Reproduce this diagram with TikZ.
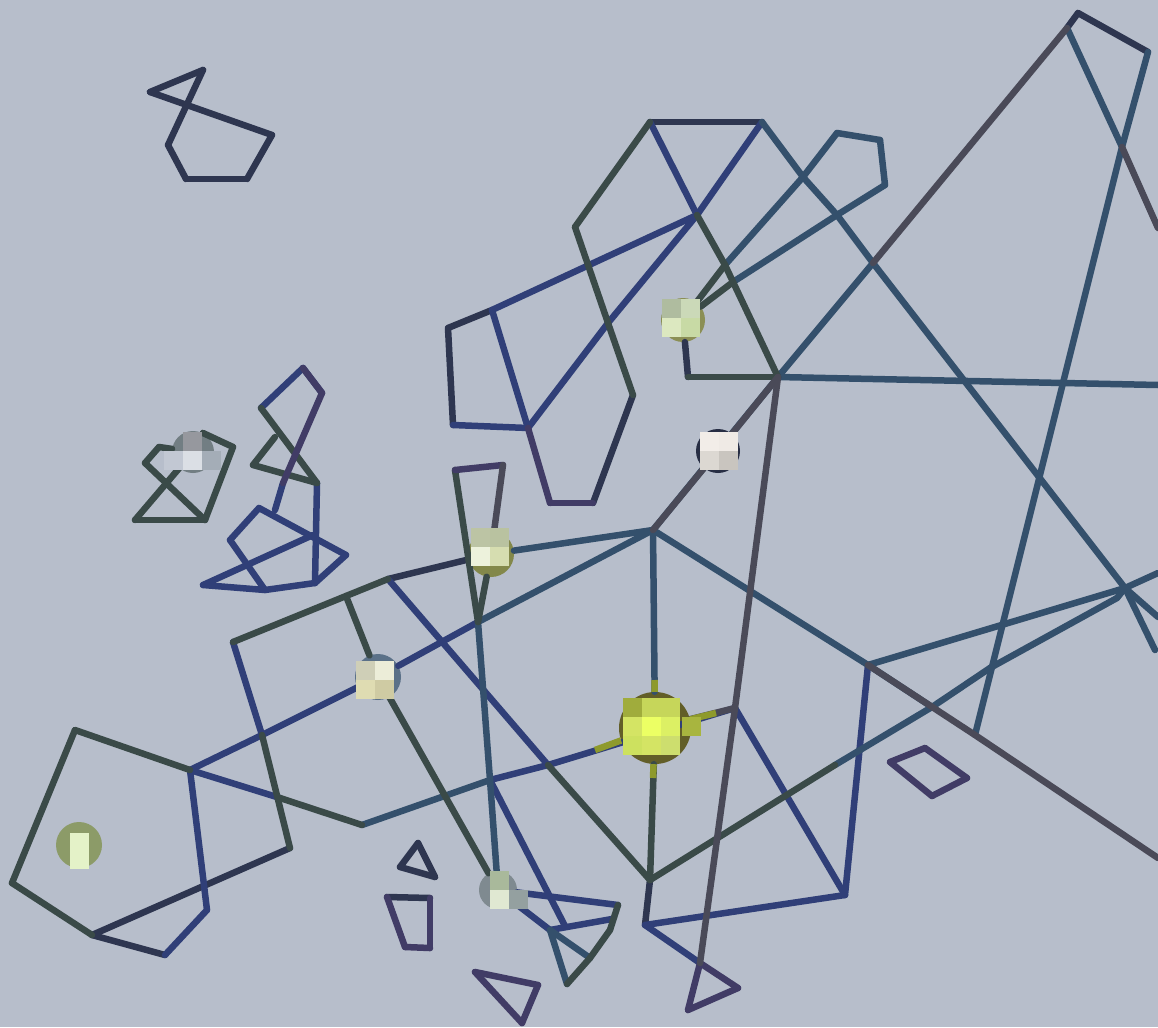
\documentclass[tikz,border=0pt]{standalone}
\usepackage{tikz}
\usetikzlibrary{positioning,shapes,calc}

\definecolor{sea}{HTML}{B7BECB}
\definecolor{ink}{HTML}{2E3650}
\definecolor{navy}{HTML}{303F78}
\definecolor{slate}{HTML}{34506C}
\definecolor{moss}{HTML}{3A4A48}
\definecolor{plum}{HTML}{413C66}
\definecolor{ash}{HTML}{4A4A58}
\definecolor{stub}{HTML}{8E9A2C}
\definecolor{madc}{HTML}{8C9B68}
\definecolor{lima}{HTML}{A0AC3C}
\definecolor{limb}{HTML}{C6D65A}
\definecolor{limc}{HTML}{D4E464}
\definecolor{limd}{HTML}{ECFF64}
\definecolor{lime}{HTML}{DCF064}
\definecolor{limf}{HTML}{A8B53F}
\definecolor{limg}{HTML}{CDE15F}
\definecolor{limh}{HTML}{CDDE6E}

\newcommand{\tile}[3]{\fill[fill=#3] (#1,#2) rectangle ++(19,19);}

\begin{document}
\begin{tikzpicture}[
  x=1pt, y=-1pt,
  road/.style={line width=6.5pt, line cap=round, line join=round},
  city/.style={circle, inner sep=0pt, minimum size=#1}
]
  \useasboundingbox (0,0) rectangle (1158,1027);
  \fill[sea] (0,0) rectangle (1158,1027);

  % junctions
  \foreach \name/\x/\y in {
    isa/150/92, isb/203/70, isc/168/145, isd/186/179, ise/247/179, isf/272/135,
    iea/135/520, ieb/205/520, iec/233/447, ied/203/433, iee/159/447, ief/145/463,
    gba/261/408, gbb/303/368, gbc/322/393, gbd/283/483, gbe/275/510, gbf/317/483,
    gbg/253/465, gbh/275/437, gbi/315/583, gbj/259/508, gbk/230/540, gbl/346/555,
    gbm/203/585, gbn/265/590, gbo/313/535,
    sca/650/122, scb/762/122, scc/575/227, scd/697/215, scf/448/328,
    scg/492/310, sch/453/425, sci/528/428, scj/608/323, sck/633/395, scl/550/503,
    scm/593/503,
    baa/803/177, bab/837/215, bac/873/263, bad/725/265, bae/837/133, baf/880/140,
    bag/885/185, bah/733/282, bai/688/377, hub/778/377, eas/1158/385,
    pea/1078/13, peb/1067/28, pec/1148/52, ped/1122/147, pee/1158/228, pef/975/735,
    rua/1125/588, rub/1158/573, ruc/1158/617, rud/1155/650, rue/1117/598, ruf/1158/858,
    rug/868/665, ruh/990/668, rui/932/707, ruj/835/765, ruk/735/708,
    dia/890/762, dib/925/748, dic/967/778, did/932/796,
    cen/653/530, fra/478/622, trb/455/470, trc/503/465,
    wea/233/642, web/346/596, wec/388/579, wed/262/735, wee/290/848,
    wef/190/770, weg/75/730, weh/12/883, wei/92/935, wej/165/955, wek/207/910,
    wel/280/798, wem/362/825, wen/490/780, weo/548/765, wep/650/880,
    sma/418/843, smb/400/867, smc/435/877,
    qua/387/897, qub/430/898, quc/430/948, qud/405/947,
    tra/475/972, trd/538/985, tre/522/1023,
    ita/618/905, itb/550/930, itc/567/984, itd/590/958, ite/565/926, itf/612/919,
    itg/610/930, sua/645/925, sub/700/963, suc/738/988, sud/688/1010, sue/845/895,
    mia/654.5/680, mib/653/778, mic/595/750, mid/716/713
  }{
    \coordinate (\name) at (\x,\y);
  }

  % cities
  \node[city=42pt, fill=moss!55!sea] (dub) at (193,452) {};
  \node[city=44pt, fill=moss!40!olive!75!white] (ber) at (683,320) {};
  \node[city=44pt, fill=ink!85!black] (war) at (718,451) {};
  \node[city=46pt, fill=moss!40!olive!80!white] (par) at (491,554) {};
  \node[city=46pt, fill=slate!70!sea] (lon) at (378,677) {};
  \node[city=72pt, fill=olive!60!black] (mil) at (655,728) {};
  \node[city=46pt, fill=madc] (mad) at (79,845) {};
  \node[city=38pt, fill=moss!45!sea] (rom) at (498,890) {};

  % roads, by colour
  \foreach \a/\b in {isa/isb, isb/isc, isc/isd, isd/ise, ise/isf, isf/isa, sca/scb,
      scf/scg, sch/scf, pea/peb, pea/pec, sma/smb, smb/smc, smc/sma, scm/sck,
      qua/qub, wec/par, ber/bai, wep/sua, wei/wej, wee/wei}
    \draw[road, ink] (\a) -- (\b);
  \foreach \a/\b in {gba/gbb, gbc/gbb, gbf/gbi, gbi/gbl, gbi/gbn, gbl/gbj, gbj/gbk,
      gbk/gbn, gbn/gbm, gbm/gbo, gbd/gbe, scg/sci, sch/sci, sca/scd, scd/scb,
      sci/scj, scj/scd, ruk/sue, sue/rug, sua/sue, sua/sub, itb/rom, rom/ita,
      ite/wen, itf/itb, wea/wed, wef/wed, lon/fra, wec/weo, weo/ruk, weo/wen,
      scd/scg, wef/wek, wek/wej, wef/wel, lon/wed}
    \draw[road, navy] (\a) -- (\b);
  \foreach \a/\b in {bab/bag, bag/baf, baf/bae, bae/baa, baa/bad, bab/bah, bab/bac,
      scb/baa, baa/bab, bac/rua, bac/hub, hub/eas, hub/cen, cen/par, cen/fra, cen/mil,
      cen/rug, rua/rug, rue/rua, rue/ruh, ruh/rui, rui/ruj, rug/rui, ped/pef,
      peb/ped, pec/ped, rua/rub, rua/ruc, rua/rud, fra/wen, wen/rom, wen/wem,
      itb/itc, itb/itd}
    \draw[road, slate] (\a) -- (\b);
  \foreach \a/\b in {sca/scc, scc/scj, scj/sck, iea/ieb, ieb/iec, iec/ied, ied/dub,
      dub/iee, iee/ief, ief/ieb, iea/dub, gba/gbf, gbg/gbf, gbg/gbh, scd/bad,
      bad/hub, bad/ber, bah/ber, bai/hub, trb/fra, par/fra, wea/web, web/wec,
      weg/wef, weg/weh, weh/wei, wed/wee, lon/web, lon/rom, itc/itd, itd/itg,
      itg/ita, wep/ruj, mil/wep, wem/wel, weo/wep}
    \draw[road, moss] (\a) -- (\b);
  \foreach \a/\b in {sci/scl, scl/scm, qub/quc, quc/qud, qud/qua, tra/trd, trd/tre,
      tre/tra, dia/dib, dib/dic, dic/did, did/dia, sub/suc, suc/sud, sud/sub,
      trb/trc, gbb/gbc, gbc/gbd}
    \draw[road, plum] (\a) -- (\b);
  \foreach \a/\b in {peb/bac, ped/pee, ruk/hub, ruk/sub, rug/pef, pef/ruf, war/hub,
      war/cen, trc/par, mil/ruk}
    \draw[road, ash] (\a) -- (\b);
  \foreach \a/\b in {mia/mil, mib/mil, mic/mil, mid/mil}
    \draw[road, stub, line cap=butt] (\a) -- (\b);

  % city lights
  \tile{183}{432}{gray!60!sea}
  \tile{183}{451}{sea!50!white}
  \tile{164}{451}{sea!85!white}
  \tile{202}{451}{moss!15!sea}

  \tile{662}{299}{{rgb,255:red,175;green,188;blue,159}}
  \tile{681}{299}{{rgb,255:red,203;green,217;blue,184}}
  \tile{662}{318}{{rgb,255:red,220;green,232;blue,192}}
  \tile{681}{318}{{rgb,255:red,200;green,218;blue,165}}

  \tile{700}{432}{{rgb,255:red,242;green,237;blue,232}}
  \tile{719}{432}{{rgb,255:red,239;green,234;blue,229}}
  \tile{700}{451}{{rgb,255:red,220;green,216;blue,210}}
  \tile{719}{451}{{rgb,255:red,201;green,197;blue,191}}

  \tile{471}{528}{{rgb,255:red,188;green,196;blue,164}}
  \tile{490}{528}{{rgb,255:red,185;green,194;blue,160}}
  \tile{471}{547}{{rgb,255:red,237;green,242;blue,220}}
  \tile{490}{547}{{rgb,255:red,214;green,221;blue,176}}

  \tile{356}{661}{{rgb,255:red,207;green,207;blue,183}}
  \tile{375}{661}{{rgb,255:red,236;green,237;blue,216}}
  \tile{356}{680}{{rgb,255:red,223;green,220;blue,178}}
  \tile{375}{680}{{rgb,255:red,207;green,203;blue,163}}

  \foreach \x/\y/\tint in {623/698/lima, 642/698/limb, 661/698/limb, 623/717/limc,
      642/717/limd, 661/717/lime, 682/717/limf, 623/736/limg, 642/736/limc, 661/736/limh}{
    \tile{\x}{\y}{\tint}
  }

  \tile{70}{833}{{rgb,255:red,228;green,242;blue,200}}
  \tile{70}{850}{{rgb,255:red,228;green,242;blue,200}}

  \tile{490}{871}{{rgb,255:red,169;green,185;blue,155}}
  \tile{490}{890}{{rgb,255:red,224;green,232;blue,210}}
  \tile{509}{890}{{rgb,255:red,148;green,160;blue,160}}
\end{tikzpicture}
\end{document}
